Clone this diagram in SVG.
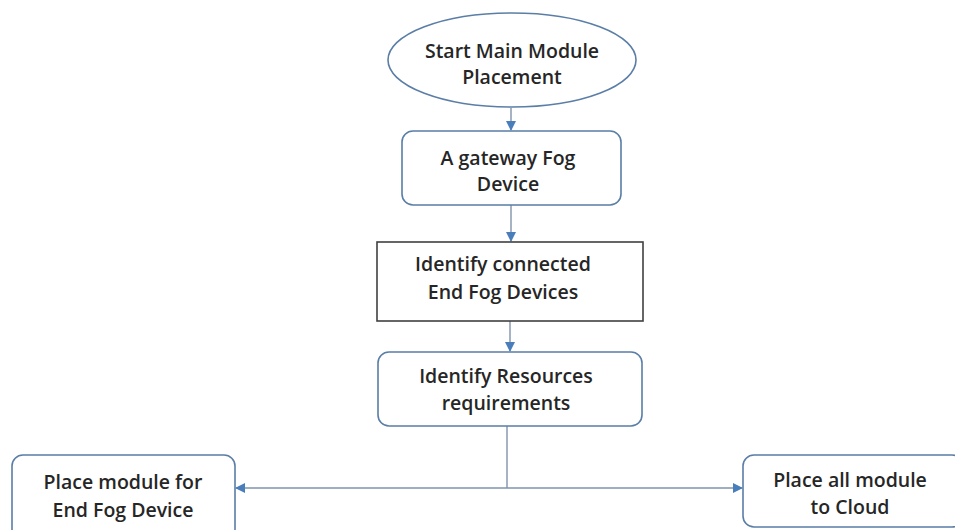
<svg xmlns="http://www.w3.org/2000/svg" width="955" height="530" viewBox="0 0 955 530">
<defs>
<style>
.t{font-family:"Open Sans","Liberation Sans",sans-serif;font-weight:600;font-size:19.5px;fill:#262626;text-anchor:middle}
.n{fill:#fff;stroke:#5a7ea6;stroke-width:1.6}
.c{fill:none;stroke:#7f93ab;stroke-width:1.4}
</style>
<marker id="ah" markerWidth="10" markerHeight="10" refX="9" refY="5" orient="auto" markerUnits="userSpaceOnUse">
<path d="M0,0 L10,5 L0,10 Z" fill="#4a7ebb"/>
</marker>
</defs>
<rect width="955" height="530" fill="#fff"/>
<g id="connectors">
<line class="c" x1="511" y1="108" x2="511" y2="130" marker-end="url(#ah)"/>
<line class="c" x1="511" y1="205" x2="511" y2="241" marker-end="url(#ah)"/>
<line class="c" x1="510" y1="321" x2="510" y2="351" marker-end="url(#ah)"/>
<polyline class="c" points="507,426 507,488"/>
<line class="c" x1="507" y1="488" x2="236" y2="488" marker-end="url(#ah)"/>
<line class="c" x1="507" y1="488" x2="742" y2="488" marker-end="url(#ah)"/>
</g>
<g id="start">
<ellipse class="n" cx="512" cy="60" rx="124" ry="47" stroke="#41719c"/>
<text class="t" x="512" y="58">Start Main Module</text>
<text class="t" x="512" y="84">Placement</text>
</g>
<g id="gateway">
<rect class="n" x="402" y="131" width="219" height="74" rx="11"/>
<text class="t" x="508" y="165">A gateway Fog</text>
<text class="t" x="508" y="191">Device</text>
</g>
<g id="identify-connected">
<rect x="377" y="242" width="266" height="79" fill="#fff" stroke="#404040" stroke-width="1.6"/>
<text class="t" x="503" y="271">Identify connected</text>
<text class="t" x="503" y="299">End Fog Devices</text>
</g>
<g id="identify-resources">
<rect class="n" x="378" y="352" width="264" height="74" rx="11"/>
<text class="t" x="506" y="383">Identify Resources</text>
<text class="t" x="506" y="410">requirements</text>
</g>
<g id="place-end">
<rect class="n" x="12" y="455" width="223" height="85" rx="11"/>
<text class="t" x="123" y="489">Place module for</text>
<text class="t" x="123" y="517">End Fog Device</text>
</g>
<g id="place-cloud">
<rect class="n" x="743" y="455" width="220" height="72" rx="11"/>
<text class="t" x="850" y="487">Place all module</text>
<text class="t" x="850" y="514">to Cloud</text>
</g>
</svg>
